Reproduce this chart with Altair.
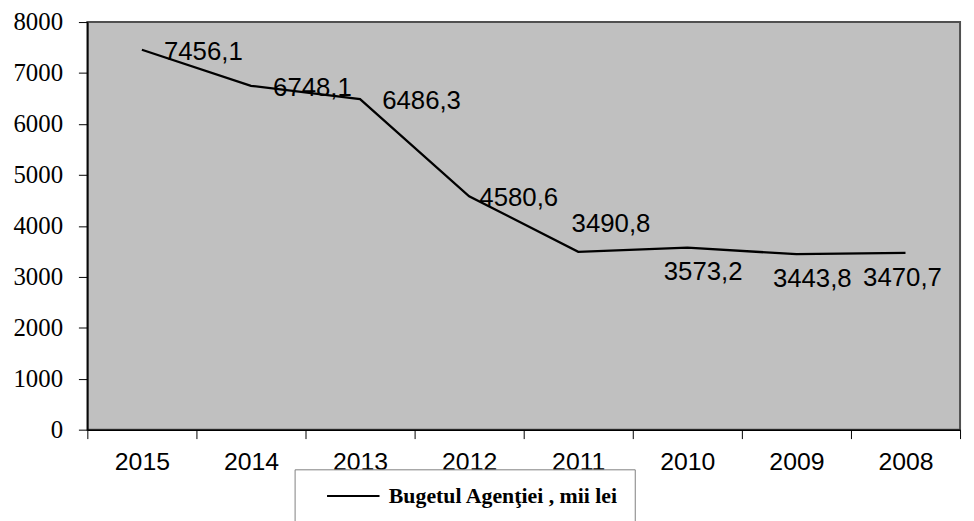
import altair as alt
import pandas as pd

years = ["2015", "2014", "2013", "2012", "2011", "2010", "2009", "2008"]
values = [7456.1, 6748.1, 6486.3, 4580.6, 3490.8, 3573.2, 3443.8, 3470.7]
series_name = "Bugetul Agenţiei , mii lei"
y_ticks = [0, 1000, 2000, 3000, 4000, 5000, 6000, 7000, 8000]

df = pd.DataFrame({"year": years, "value": values, "series": [series_name] * len(years)})

x_enc = alt.X(
    "year:N",
    sort=years,
    bandPosition=0.5,
    scale=alt.Scale(type="band", paddingInner=0, paddingOuter=0),
    axis=alt.Axis(
        title=None,
        tickBand="extent",
        tickSize=9,
        tickColor="black",
        tickWidth=1,
        domainColor="black",
        domainWidth=1.5,
        labelFont="Liberation Sans",
        labelFontSize=25,
        labelColor="black",
        labelPadding=11,
        labelAngle=0,
        grid=False,
    ),
)
y_enc = alt.Y(
    "value:Q",
    scale=alt.Scale(domain=[0, 8000], nice=False),
    axis=alt.Axis(
        title=None,
        values=y_ticks,
        format="d",
        tickSize=9,
        tickColor="black",
        domainColor="black",
        domainWidth=1.5,
        labelFont="Liberation Serif",
        labelFontSize=25,
        labelColor="black",
        labelPadding=16,
        grid=False,
    ),
)

base = alt.Chart(df)

line = base.mark_line(strokeWidth=2.3).encode(
    x=x_enc,
    y=y_enc,
    color=alt.Color(
        "series:N",
        scale=alt.Scale(range=["black"]),
        legend=alt.Legend(
            title=None,
            orient="none",
            legendX=209,
            legendY=451,
            padding=16,
            fillColor="white",
            strokeColor="#808080",
            symbolType="M-1,0H9",
            symbolSize=112,
            symbolStrokeWidth=2,
            symbolStrokeColor="black",
            symbolFillColor="transparent",
            symbolOffset=11,
            labelOffset=46,
            labelFont="Liberation Serif",
            labelFontSize=22,
            labelFontWeight="bold",
            labelColor="black",
            labelLimit=0,
            labelExpr="datum.label + '\u00a0\u00a0\u00a0\u00a0'",
        ),
    ),
)

def labels(sel, dx, dy):
    return (
        base.transform_filter(alt.FieldOneOfPredicate(field="year", oneOf=sel))
        .transform_calculate(lab="replace(format(datum.value, '.1f'), '.', ',')")
        .mark_text(font="Liberation Sans", fontSize=26, color="black", dx=dx, dy=dy, align="center", baseline="middle")
        .encode(x=alt.X("year:N", sort=years, bandPosition=0.5), y="value:Q", text="lab:N")
    )

chart = alt.layer(
    line,
    labels(["2015", "2014", "2013"], 62, 2),
    labels(["2012"], 50, 2),
    labels(["2011"], 33, -28),
    labels(["2010", "2009"], 16, 25),
    labels(["2008"], -3, 25),
).properties(
    width=880,
    height=411,
    background="white",
    autosize=alt.AutoSizeParams(type="none"),
    padding={"left": 80, "top": 12, "right": 6, "bottom": 100},
).configure_view(
    fill="#c0c0c0",
    stroke="#505050",
    strokeWidth=2,
)

chart.save("out.html", embed_options={"renderer": "svg", "actions": False})
